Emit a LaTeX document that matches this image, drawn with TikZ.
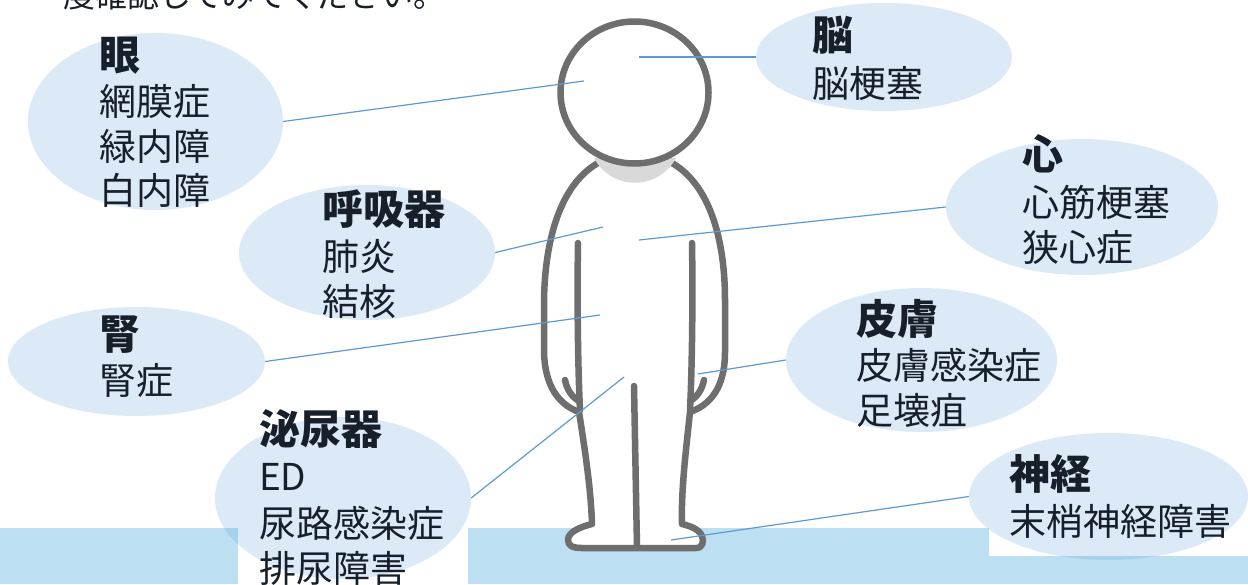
\documentclass[tikz,border=0pt]{standalone}
\usepackage{fontspec}
\setmainfont{Noto Sans CJK JP}
\usetikzlibrary{shapes.geometric}
\definecolor{organfill}{HTML}{5B9BD5}
\definecolor{linkblue}{HTML}{5B9BD5}
\definecolor{floorblue}{HTML}{BCE0F2}
\definecolor{inkgray}{HTML}{6E6E6E}
\definecolor{necksh}{HTML}{D9D9D9}
\definecolor{txt}{HTML}{17202A}
\tikzset{
  organ/.style={ellipse, fill=organfill, fill opacity=0.21, draw=none, inner sep=0pt},
  figline/.style={draw=inkgray, line width=6.5pt, line cap=round, line join=round},
  link/.style={draw=linkblue, line width=1.2pt},
  headtxt/.style={anchor=base west, inner sep=0pt, text=txt, font=\bfseries\fontsize{41}{41}\selectfont},
  bodytxt/.style={anchor=base west, inner sep=0pt, text=txt, font=\fontsize{37}{37}\selectfont},
}
\begin{document}
\begin{tikzpicture}[x=1pt, y=-1pt]
\useasboundingbox (0,0) rectangle (1248,584);
\clip (0,0) rectangle (1248,584);
\fill[white] (0,0) rectangle (1248,584);

% floor band with the white patches behind the lower captions
\fill[floorblue] (0,528) rectangle (1248,584);
\fill[white] (238,528) rectangle (468,584);
\fill[white] (989,528) rectangle (1248,556);

% heading line cut by the top edge
\node[anchor=base west, inner sep=0pt, text=txt, font=\fontsize{32}{32}\selectfont] (intro) at (63,7) {度確認してみてください。};

% the standing figure
\path[figline, fill=white]
  (598,163) .. controls (560,185) and (545,240) .. (544,300)
  -- (544,352)
  .. controls (545,388) and (560,405) .. (579,412)
  .. controls (585,450) and (591,490) .. (592,524)
  .. controls (580,527) and (568,532) .. (568,540)
  .. controls (568,546) and (573,548) .. (582,548)
  -- (696,548)
  .. controls (703,548) and (704,541) .. (702,536)
  .. controls (699,529) and (690,526) .. (682,524)
  .. controls (681,490) and (686,450) .. (690,412)
  .. controls (710,405) and (725,388) .. (725,352)
  -- (725,300)
  .. controls (725,240) and (710,185) .. (672,163);
\fill[necksh] (594,158) .. controls (612,191) and (658,191) .. (676,158) -- cycle;
\path[figline, fill=white] (634.5,92.5) ellipse[x radius=74, y radius=71];
\path[figline] (578,243) .. controls (577,300) and (578,370) .. (580,410);
\path[figline] (692,243) .. controls (693,300) and (692,370) .. (690,410);
\path[figline] (565,380) .. controls (567,390) and (572,397) .. (579,401);
\path[figline] (704,380) .. controls (702,390) and (697,397) .. (690,401);
\path[figline] (634,386) -- (637,547);

% points on the figure
\coordinate (pEye) at (584,81);
\coordinate (pBrain) at (639,57);
\coordinate (pResp) at (603,227);
\coordinate (pHeart) at (639,240);
\coordinate (pKidney) at (600,315);
\coordinate (pUro) at (624,377);
\coordinate (pSkin) at (698,374);
\coordinate (pNerve) at (671,540);

% organ bubbles
\node[organ, minimum width=255pt, minimum height=177pt] (eye) at (155.5,121.5) {};
\node[organ, minimum width=256pt, minimum height=108pt] (brain) at (884,57) {};
\node[organ, minimum width=272pt, minimum height=136pt] (heart) at (1082,207) {};
\node[organ, minimum width=256pt, minimum height=135pt] (resp) at (367,252.5) {};
\node[organ, minimum width=257pt, minimum height=109pt] (kidney) at (136.5,361.5) {};
\node[organ, minimum width=271pt, minimum height=144pt] (skin) at (921.5,360) {};
\node[organ, minimum width=256pt, minimum height=162pt] (uro) at (343,498) {};
\node[organ, minimum width=279pt, minimum height=127pt] (nerve) at (1108.5,496.5) {};

% leader lines
\draw[link] (eye.east) -- (pEye);
\draw[link] (pBrain) -- (brain.west);
\draw[link] (resp.east) -- (pResp);
\draw[link] (pHeart) -- (heart.west);
\draw[link] (kidney.east) -- (pKidney);
\draw[link] (uro.east) -- (pUro);
\draw[link] (pSkin) -- (skin.west);
\draw[link] (pNerve) -- (nerve.west);

% captions
\node[headtxt] (eyeH) at (99,70) {眼};
\node[bodytxt] (eyeA) at (99,115) {網膜症};
\node[bodytxt] (eyeB) at (99,160) {緑内障};
\node[bodytxt] (eyeC) at (99,204) {白内障};

\node[headtxt] (brainH) at (812,50) {脳};
\node[bodytxt] (brainA) at (812,97) {脳梗塞};

\node[headtxt] (heartH) at (1022,169) {心};
\node[bodytxt] (heartA) at (1022,216) {心筋梗塞};
\node[bodytxt] (heartB) at (1022,261) {狭心症};

\node[headtxt] (respH) at (322,224) {呼吸器};
\node[bodytxt] (respA) at (322,270) {肺炎};
\node[bodytxt] (respB) at (322,315) {結核};

\node[headtxt] (kidneyH) at (99,349) {腎};
\node[bodytxt] (kidneyA) at (99,394) {腎症};

\node[headtxt] (skinH) at (856,334) {皮膚};
\node[bodytxt] (skinA) at (856,379) {皮膚感染症};
\node[bodytxt] (skinB) at (856,424) {足壊疽};

\node[headtxt] (uroH) at (259,444) {泌尿器};
\node[bodytxt] (uroA) at (259,490) {ED};
\node[bodytxt] (uroB) at (259,537) {尿路感染症};
\node[bodytxt] (uroC) at (259,582) {排尿障害};

\node[headtxt] (nerveH) at (1009,489) {神経};
\node[bodytxt] (nerveA) at (1009,535) {末梢神経障害};
\end{tikzpicture}
\end{document}
